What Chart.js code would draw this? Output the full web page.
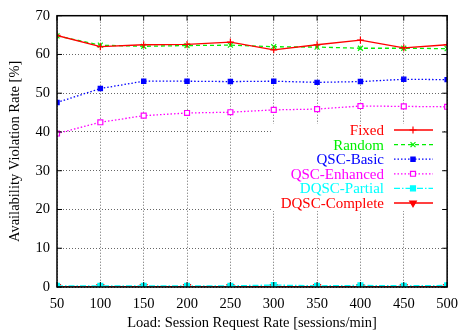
<!DOCTYPE html>
<html>
<head>
<meta charset="utf-8">
<script src="https://cdn.jsdelivr.net/npm/chart.js@4/dist/chart.umd.min.js"></script>
<style>
  html, body { margin: 0; padding: 0; background: #fff; }
  #wrap { width: 466px; height: 335px; }
</style>
</head>
<body>
<div id="wrap"><canvas id="c" width="466" height="335"></canvas></div>
<script>
const rates = [50, 100, 150, 200, 250, 300, 350, 400, 450, 500];
const fixed = [64.9, 62.0, 62.5, 62.6, 63.2, 61.2, 62.5, 63.7, 61.7, 62.5];
const random = [64.8, 62.4, 62.1, 62.3, 62.4, 62.0, 61.9, 61.6, 61.6, 61.5];
const qscBasic = [47.6, 51.2, 53.1, 53.1, 53.0, 53.1, 52.8, 53.0, 53.6, 53.5];
const qscEnhanced = [39.6, 42.5, 44.2, 44.9, 45.1, 45.7, 45.9, 46.7, 46.6, 46.5];
const dqscPartial = [0.3, 0.3, 0.3, 0.3, 0.3, 0.5, 0.3, 0.4, 0.3, 0.4];
const dqscComplete = [0.1, 0.1, 0.1, 0.1, 0.1, 0.1, 0.1, 0.1, 0.1, 0.1];
const yTicks = [0, 10, 20, 30, 40, 50, 60, 70];

const FONT = "'Liberation Serif', 'DejaVu Serif', serif";

function pts(arr) { return rates.map((x, i) => ({ x: x, y: arr[i] })); }

function ds(label, data, color, style, radius, dash, extra) {
  return Object.assign({
    label: label,
    data: pts(data),
    borderColor: color,
    backgroundColor: color,
    pointBackgroundColor: color,
    pointBorderColor: color,
    borderWidth: 1.3,
    pointBorderWidth: 1.2,
    pointStyle: style,
    pointRadius: radius,
    pointHoverRadius: radius,
    borderDash: dash,
    tension: 0,
    fill: false
  }, extra || {});
}

const datasets = [
  ds('Fixed', fixed, '#ff0000', 'cross', 3.5, []),
  ds('Random', random, '#00f000', 'crossRot', 3.5, [4, 3]),
  ds('QSC-Basic', qscBasic, '#0000ff', 'rect', 3, [1.5, 2]),
  ds('QSC-Enhanced', qscEnhanced, '#ff00ff', 'rect', 3.5, [1.5, 2], { pointBackgroundColor: '#ffffff' }),
  ds('DQSC-Partial', dqscPartial, '#00ffff', 'rect', 3.5, [6, 2, 1.5, 2]),
  ds('DQSC-Complete', dqscComplete, '#ff0000', 'triangle', 3.8, [], { pointRotation: 180 })
];

const legendBox = {
  id: 'legendBox',
  beforeDatasetsDraw(chart) {
    const ctx = chart.ctx;
    ctx.save();
    ctx.fillStyle = '#ffffff';
    ctx.fillRect(271, 124, 171, 87);
    ctx.restore();
  },
  afterDatasetsDraw(chart) {
    const ctx = chart.ctx;
    const a = chart.chartArea;
    ctx.save();
    ctx.strokeStyle = '#000';
    ctx.lineWidth = 1.5;
    ctx.setLineDash([]);
    ctx.strokeRect(a.left, a.top, a.right - a.left, a.bottom - a.top);
    const xs = chart.scales.x, ys = chart.scales.y;
    ctx.lineWidth = 1;
    ctx.beginPath();
    rates.forEach(v => {
      const px = xs.getPixelForValue(v);
      ctx.moveTo(px, a.bottom); ctx.lineTo(px, a.bottom - 5);
      ctx.moveTo(px, a.top); ctx.lineTo(px, a.top + 5);
    });
    yTicks.forEach(v => {
      const py = ys.getPixelForValue(v);
      ctx.moveTo(a.left, py); ctx.lineTo(a.left + 5, py);
      ctx.moveTo(a.right, py); ctx.lineTo(a.right - 5, py);
    });
    ctx.stroke();
    const rowY0 = 130, rowH = 14.6;
    ctx.font = '15px ' + FONT;
    ctx.textAlign = 'right';
    ctx.textBaseline = 'middle';
    chart.data.datasets.forEach((d, i) => {
      const y = rowY0 + i * rowH;
      ctx.fillStyle = d.borderColor;
      ctx.fillText(d.label, 384, y + 1);
      ctx.strokeStyle = d.borderColor;
      ctx.lineWidth = d.borderWidth;
      ctx.setLineDash(d.borderDash || []);
      ctx.beginPath();
      ctx.moveTo(394, y); ctx.lineTo(433, y);
      ctx.stroke();
      ctx.setLineDash([]);
      ctx.fillStyle = d.pointBackgroundColor;
      ctx.strokeStyle = d.pointBorderColor;
      ctx.lineWidth = d.pointBorderWidth;
      Chart.helpers.drawPoint(ctx, {
        pointStyle: d.pointStyle,
        radius: d.pointRadius,
        rotation: d.pointRotation || 0,
        borderWidth: d.pointBorderWidth
      }, 413, y);
    });
    ctx.restore();
  }
};

new Chart(document.getElementById('c'), {
  type: 'line',
  data: { datasets: datasets },
  options: {
    responsive: false,
    animation: false,
    devicePixelRatio: 1,
    layout: { padding: { top: 12, right: 10, left: 0, bottom: 0 } },
    plugins: { legend: { display: false }, tooltip: { enabled: false } },
    scales: {
      x: {
        type: 'linear',
        min: 50, max: 500,
        afterFit(s) { s.height = 48; },
        afterBuildTicks(s) { s.ticks = rates.map(v => ({ value: v })); },
        grid: { color: '#666', lineWidth: 1, drawTicks: false },
        border: { display: false, dash: [1, 2] },
        ticks: { color: '#000', padding: 8, maxRotation: 0, autoSkip: false, font: { family: FONT, size: 14.5 } },
        title: { display: true, text: 'Load: Session Request Rate [sessions/min]', color: '#000', padding: { top: 0, bottom: 3.3 }, font: { family: FONT, size: 14.5 } }
      },
      y: {
        min: 0, max: 70,
        afterFit(s) { s.width = 57; },
        afterBuildTicks(s) { s.ticks = yTicks.map(v => ({ value: v })); },
        grid: { color: '#666', lineWidth: 1, drawTicks: false },
        border: { display: false, dash: [1, 2] },
        ticks: { color: '#000', padding: 7, font: { family: FONT, size: 14.5 } },
        title: { display: true, text: 'Availability Violation Rate [%]', color: '#000', padding: { top: 6.3, bottom: 0 }, font: { family: FONT, size: 14.5 } }
      }
    }
  },
  plugins: [legendBox]
});
</script>
</body>
</html>
